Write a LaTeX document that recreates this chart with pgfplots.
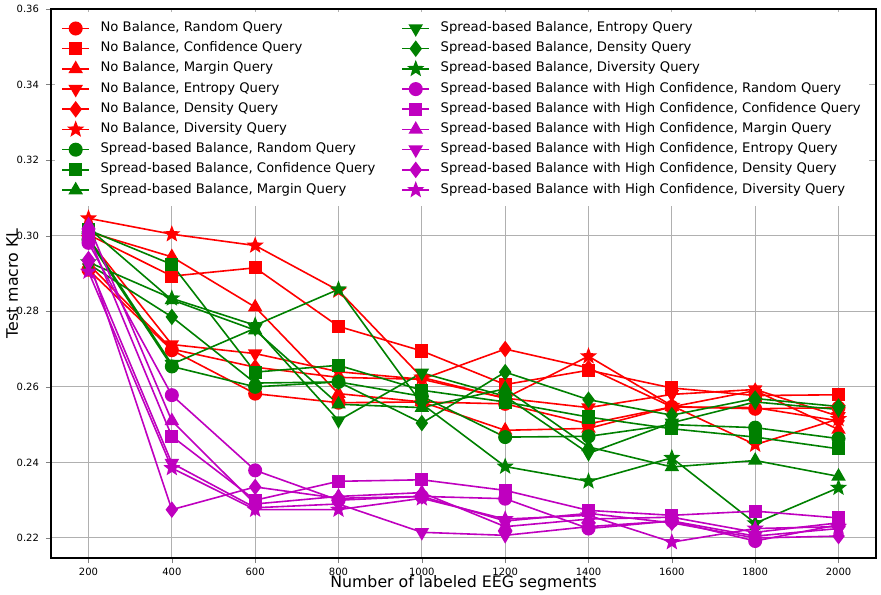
\documentclass[border=0pt]{standalone}
\usepackage{fontspec}
\setmainfont{DejaVu Sans}
\usepackage{pgfplots}
\pgfplotsset{compat=1.18}
\definecolor{colR}{RGB}{255,0,0}
\definecolor{colG}{RGB}{0,128,0}
\definecolor{colM}{RGB}{191,0,191}
\definecolor{gridc}{RGB}{176,176,176}
\pgfdeclareplotmark{fstar}{%
 \pgfpathmoveto{\pgfpointpolar{90}{1.3\pgfplotmarksize}}%
 \pgfpathlineto{\pgfpointpolar{126}{0.55\pgfplotmarksize}}%
 \pgfpathlineto{\pgfpointpolar{162}{1.3\pgfplotmarksize}}%
 \pgfpathlineto{\pgfpointpolar{198}{0.55\pgfplotmarksize}}%
 \pgfpathlineto{\pgfpointpolar{234}{1.3\pgfplotmarksize}}%
 \pgfpathlineto{\pgfpointpolar{270}{0.55\pgfplotmarksize}}%
 \pgfpathlineto{\pgfpointpolar{306}{1.3\pgfplotmarksize}}%
 \pgfpathlineto{\pgfpointpolar{342}{0.55\pgfplotmarksize}}%
 \pgfpathlineto{\pgfpointpolar{18}{1.3\pgfplotmarksize}}%
 \pgfpathlineto{\pgfpointpolar{54}{0.55\pgfplotmarksize}}%
 \pgfpathclose\pgfusepathqfillstroke}
\pgfplotsset{
 pc/.style={line width=0.8pt, mark=*, mark size=3.1pt},
 ps/.style={line width=0.8pt, mark=square*, mark size=2.9pt},
 pt/.style={line width=0.8pt, mark=triangle*, mark size=3.4pt},
 pv/.style={line width=0.8pt, mark=triangle*, mark size=3.4pt, mark options={rotate=180}},
 pd/.style={line width=0.8pt, mark=diamond*, mark size=3.5pt},
 pa/.style={line width=0.8pt, mark=fstar, mark size=2.6pt},
}
\begin{document}
\begin{tikzpicture}
\begin{axis}[
 scale only axis, width=412.5pt, height=274.5pt,
 xmin=110, xmax=2090, ymin=0.2147, ymax=0.36,
 xtick={200,400,...,2000},
 ytick={0.22,0.24,0.26,0.28,0.30,0.32,0.34,0.36},
 /pgf/number format/assume math mode=true,
 yticklabel style={/pgf/number format/.cd, fixed, fixed zerofill, precision=2},
 xticklabel style={/pgf/number format/.cd, set thousands separator={}, /tikz/.cd, yshift=1pt},
 tick label style={font=\fontsize{5}{6}\selectfont},
 scaled y ticks=false,
 tick align=outside, tick pos=left, major tick length=2.5pt,
 grid=major, major grid style={color=gridc, line width=0.5pt},
 axis line style={line width=0.7pt},
 xlabel={Number of labeled EEG segments},
 ylabel={Test macro KL},
 every axis x label/.style={at={(axis description cs:0.5,-0.045)}, anchor=center, font=\fontsize{7.9}{9.5}\selectfont},
 every axis y label/.style={at={(axis description cs:-0.047,0.5)}, anchor=center, rotate=90, font=\fontsize{7.9}{9.5}\selectfont},
 legend columns=9, transpose legend,
 legend image code/.code={\draw[mark repeat=2,mark phase=2] plot coordinates {(0pt,0pt) (6.75pt,0pt) (13.5pt,0pt)};},
 legend style={
  at={(axis description cs:0,1)}, anchor=north west, xshift=2pt, yshift=-1.5pt,
  draw=none, fill=white, inner sep=3pt,
  font=\fontsize{6.6}{7.5}\selectfont,
  cells={anchor=west}, row sep=0pt,
  nodes={inner sep=1.4pt, text height=5.2pt, text depth=2.1pt},
  /tikz/every odd column/.append style={column sep=3.9pt},
  /tikz/every even column/.append style={column sep=11.6pt},
 },
]
% No Balance
\addplot[color=colR, pc] coordinates {(200,0.2910)(400,0.2697)(600,0.2582)(800,0.2558)(1000,0.2560)(1200,0.2555)(1400,0.2502)(1600,0.2547)(1800,0.2542)(2000,0.2545)};
\addlegendentry{No Balance, Random Query}
\addplot[color=colR, ps] coordinates {(200,0.3003)(400,0.2893)(600,0.2915)(800,0.2760)(1000,0.2695)(1200,0.2606)(1400,0.2644)(1600,0.2597)(1800,0.2577)(2000,0.2579)};
\addlegendentry{No Balance, Confidence Query}
\addplot[color=colR, pt] coordinates {(200,0.3010)(400,0.2944)(600,0.2811)(800,0.2582)(1000,0.2560)(1200,0.2485)(1400,0.2490)(1600,0.2547)(1800,0.2590)(2000,0.2487)};
\addlegendentry{No Balance, Margin Query}
\addplot[color=colR, pv] coordinates {(200,0.2990)(400,0.2712)(600,0.2688)(800,0.2640)(1000,0.2620)(1200,0.2570)(1400,0.2545)(1600,0.2580)(1800,0.2593)(2000,0.2522)};
\addlegendentry{No Balance, Entropy Query}
\addplot[color=colR, pd] coordinates {(200,0.2925)(400,0.2700)(600,0.2652)(800,0.2625)(1000,0.2620)(1200,0.2700)(1400,0.2650)(1600,0.2547)(1800,0.2545)(2000,0.2510)};
\addlegendentry{No Balance, Density Query}
\addplot[color=colR, pa] coordinates {(200,0.3046)(400,0.3004)(600,0.2974)(800,0.2855)(1000,0.2625)(1200,0.2570)(1400,0.2681)(1600,0.2550)(1800,0.2447)(2000,0.2515)};
\addlegendentry{No Balance, Diversity Query}
% Spread-based Balance
\addplot[color=colG, pc] coordinates {(200,0.2990)(400,0.2654)(600,0.2600)(800,0.2613)(1000,0.2575)(1200,0.2467)(1400,0.2469)(1600,0.2500)(1800,0.2492)(2000,0.2463)};
\addlegendentry{Spread-based Balance, Random Query}
\addplot[color=colG, ps] coordinates {(200,0.3015)(400,0.2924)(600,0.2639)(800,0.2657)(1000,0.2591)(1200,0.2560)(1400,0.2520)(1600,0.2489)(1800,0.2467)(2000,0.2436)};
\addlegendentry{Spread-based Balance, Confidence Query}
\addplot[color=colG, pt] coordinates {(200,0.3020)(400,0.2830)(600,0.2750)(800,0.2554)(1000,0.2545)(1200,0.2595)(1400,0.2441)(1600,0.2388)(1800,0.2405)(2000,0.2363)};
\addlegendentry{Spread-based Balance, Margin Query}
\addplot[color=colG, pv] coordinates {(200,0.2995)(400,0.2660)(600,0.2755)(800,0.2511)(1000,0.2637)(1200,0.2575)(1400,0.2424)(1600,0.2505)(1800,0.2560)(2000,0.2540)};
\addlegendentry{Spread-based Balance, Entropy Query}
\addplot[color=colG, pd] coordinates {(200,0.2925)(400,0.2785)(600,0.2610)(800,0.2613)(1000,0.2504)(1200,0.2639)(1400,0.2566)(1600,0.2525)(1800,0.2569)(2000,0.2548)};
\addlegendentry{Spread-based Balance, Density Query}
\addplot[color=colG, pa] coordinates {(200,0.2930)(400,0.2834)(600,0.2763)(800,0.2858)(1000,0.2555)(1200,0.2389)(1400,0.2350)(1600,0.2412)(1800,0.2239)(2000,0.2333)};
\addlegendentry{Spread-based Balance, Diversity Query}
% Spread-based Balance with High Confidence
\addplot[color=colM, pc] coordinates {(200,0.2981)(400,0.2578)(600,0.2379)(800,0.2300)(1000,0.2310)(1200,0.2304)(1400,0.2225)(1600,0.2245)(1800,0.2192)(2000,0.2235)};
\addlegendentry{Spread-based Balance with High Confidence, Random Query}
\addplot[color=colM, ps] coordinates {(200,0.3000)(400,0.2469)(600,0.2300)(800,0.2350)(1000,0.2354)(1200,0.2326)(1400,0.2273)(1600,0.2260)(1800,0.2271)(2000,0.2253)};
\addlegendentry{Spread-based Balance with High Confidence, Confidence Query}
\addplot[color=colM, pt] coordinates {(200,0.3028)(400,0.2510)(600,0.2290)(800,0.2310)(1000,0.2320)(1200,0.2230)(1400,0.2250)(1600,0.2255)(1800,0.2215)(2000,0.2240)};
\addlegendentry{Spread-based Balance with High Confidence, Margin Query}
\addplot[color=colM, pv] coordinates {(200,0.2925)(400,0.2398)(600,0.2280)(800,0.2290)(1000,0.2215)(1200,0.2207)(1400,0.2230)(1600,0.2245)(1800,0.2205)(2000,0.2225)};
\addlegendentry{Spread-based Balance with High Confidence, Entropy Query}
\addplot[color=colM, pd] coordinates {(200,0.2938)(400,0.2275)(600,0.2335)(800,0.2305)(1000,0.2310)(1200,0.2245)(1400,0.2265)(1600,0.2240)(1800,0.2200)(2000,0.2205)};
\addlegendentry{Spread-based Balance with High Confidence, Density Query}
\addplot[color=colM, pa] coordinates {(200,0.2905)(400,0.2385)(600,0.2275)(800,0.2275)(1000,0.2305)(1200,0.2250)(1400,0.2260)(1600,0.2189)(1800,0.2225)(2000,0.2230)};
\addlegendentry{Spread-based Balance with High Confidence, Diversity Query}
\end{axis}
\pgfresetboundingbox
\path[use as bounding box] ([xshift=-25.5pt,yshift=-18pt]current axis.south west) rectangle ([xshift=2.5pt,yshift=4.5pt]current axis.north east);
\end{tikzpicture}
\end{document}
